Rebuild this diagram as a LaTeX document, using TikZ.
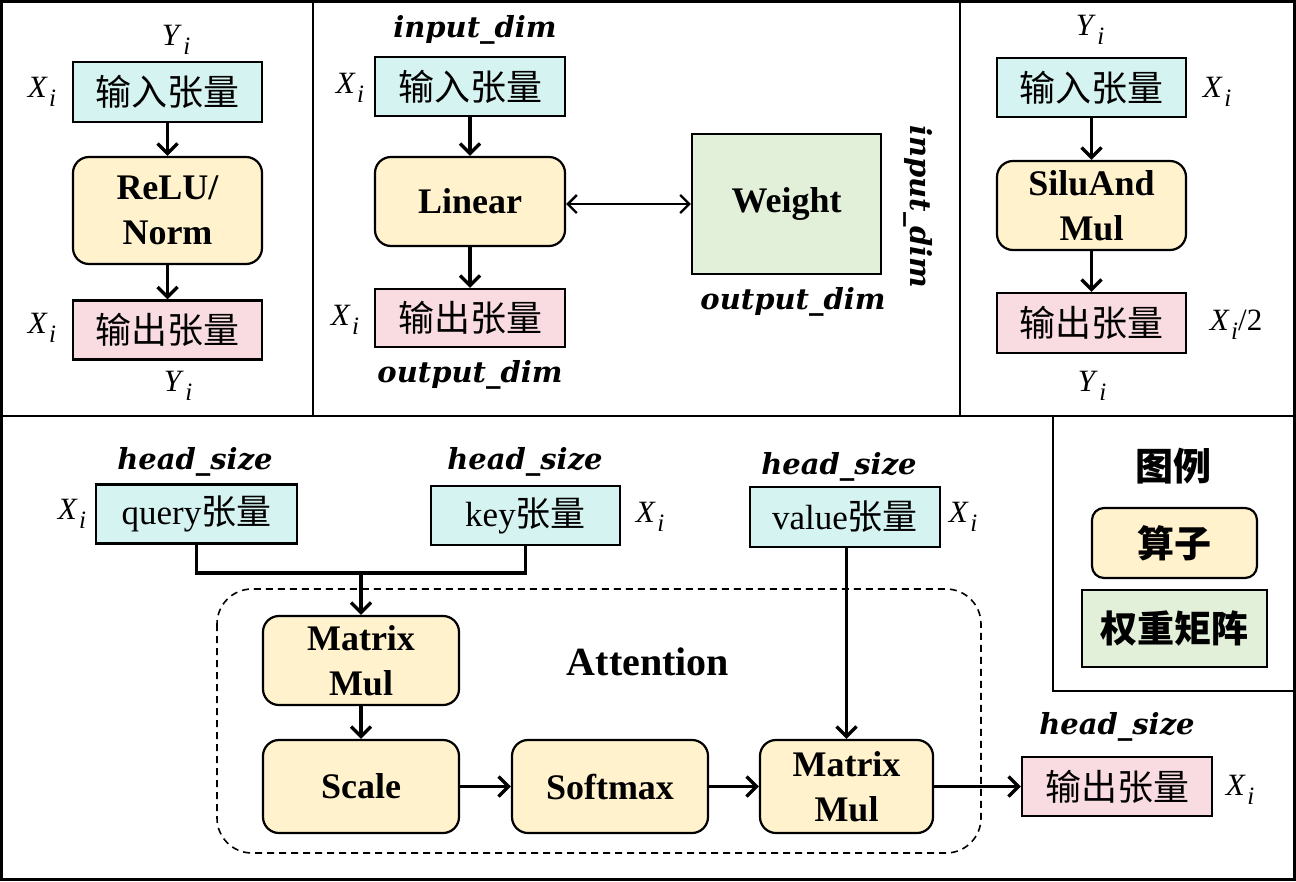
\documentclass[tikz,border=0pt]{standalone}
\usepackage{fontspec}
\setmainfont{Liberation Serif}
\newfontfamily\cjk{Noto Sans CJK SC}
\newfontfamily\dimf{DejaVu Serif}
\usetikzlibrary{arrows.meta}
\definecolor{cyanF}{HTML}{D5F3F0}
\definecolor{yelF}{HTML}{FFF2CC}
\definecolor{pinkF}{HTML}{F9DCE2}
\definecolor{grnF}{HTML}{E2EFD9}
\newcommand\symsub[2]{\textit{#1}\kern1.5pt\raisebox{-0.28em}{\fontsize{25}{25}\selectfont\textit{#2}}}
\tikzset{
  tensorin/.style={draw, line width=2.2pt, fill=cyanF, inner sep=0pt, font=\cjk\fontsize{36}{40}\selectfont},
  tensorout/.style={draw, line width=2.2pt, fill=pinkF, inner sep=0pt, font=\cjk\fontsize{36}{40}\selectfont},
  opbox/.style={draw, line width=2.2pt, fill=yelF, rounded corners=16pt, inner sep=0pt, align=center, font=\bfseries\fontsize{36}{45}\selectfont},
  wbox/.style={draw, line width=2.2pt, fill=grnF, inner sep=0pt, font=\bfseries\fontsize{36}{45}\selectfont},
  varlab/.style={inner sep=0pt, font=\fontsize{31}{33}\selectfont},
  dimlab/.style={inner sep=0pt, font=\dimf\bfseries\itshape\fontsize{29}{32}\selectfont},
  arr/.style={line width=3.4pt, -{Straight Barb[length=10pt,width=20pt]}},
  frame/.style={line width=2.6pt}
}
\begin{document}
\begin{tikzpicture}[x=1pt,y=-1pt]
\useasboundingbox (0,0) rectangle (1296,881);
% frames
\draw[frame] (1.3,1.3) rectangle (1294.7,879.7);
\draw[frame] (313,0) -- (313,416);
\draw[frame] (960,0) -- (960,416);
\draw[frame] (0,416) -- (1296,416);
\draw[frame] (1053,416) -- (1053,691) -- (1296,691);

% ---------- panel 1 ----------
\node[tensorin, minimum width=189pt, minimum height=60pt] (in1) at (167.5,92) {输入张量};
\node[opbox, minimum width=189pt, minimum height=107pt] (op1) at (167.5,210.5) {ReLU/\\Norm};
\node[tensorout, minimum width=189pt, minimum height=59pt] (out1) at (167.5,330) {输出张量};
\draw[arr] (in1) -- (op1);
\draw[arr] (op1) -- (out1);
\node[varlab] (y1a) at (176,40) {\symsub{Y}{i}};
\node[varlab] (x1a) at (42,92) {\symsub{X}{i}};
\node[varlab] (x1b) at (42,328) {\symsub{X}{i}};
\node[varlab] (y1b) at (178,386) {\symsub{Y}{i}};

% ---------- panel 2 ----------
\node[tensorin, minimum width=190pt, minimum height=59pt] (in2) at (470,86.5) {输入张量};
\node[opbox, minimum width=190pt, minimum height=89pt] (lin) at (470,201.5) {Linear};
\node[tensorout, minimum width=190pt, minimum height=58pt] (out2) at (470,318) {输出张量};
\node[wbox, minimum width=189pt, minimum height=140pt] (wt) at (786.5,204) {Weight};
\draw[arr] (in2) -- (lin);
\draw[arr] (lin) -- (out2);
\draw[line width=2.4pt, {Straight Barb[length=9pt,width=18pt]}-{Straight Barb[length=9pt,width=18pt]}] (lin.east |- wt.west) -- (wt.west);
\node[dimlab] (d2a) at (475,30) {input\_dim};
\node[varlab] (x2a) at (350,88) {\symsub{X}{i}};
\node[varlab] (x2b) at (345,320) {\symsub{X}{i}};
\node[dimlab] (d2b) at (470,375) {output\_dim};
\node[dimlab] (d2c) at (793,302) {output\_dim};
\node[dimlab, rotate=-90] (d2d) at (918,207) {input\_dim};

% ---------- panel 3 ----------
\node[tensorin, minimum width=189pt, minimum height=59pt] (in3) at (1091.5,87.5) {输入张量};
\node[opbox, minimum width=189pt, minimum height=89pt] (silu) at (1091.5,205.5) {SiluAnd\\Mul};
\node[tensorout, minimum width=189pt, minimum height=60pt] (out3) at (1091.5,323) {输出张量};
\draw[arr] (in3) -- (silu);
\draw[arr] (silu) -- (out3);
\node[varlab] (y3a) at (1090,30) {\symsub{Y}{i}};
\node[varlab] (x3a) at (1217,92) {\symsub{X}{i}};
\node[varlab] (x3b) at (1236,325) {\symsub{X}{i}/2};
\node[varlab] (y3b) at (1092,386) {\symsub{Y}{i}};

% ---------- attention panel ----------
\draw[line width=1.6pt, dashed, dash pattern=on 7pt off 5pt, rounded corners=35pt] (217,589) rectangle (981,853);
\node[inner sep=0pt, font=\bfseries\fontsize{40}{45}\selectfont] (att) at (648,662) {Attention};

\node[tensorin, minimum width=201pt, minimum height=59pt, font=\fontsize{35}{40}\selectfont] (q) at (196.5,514) {query{\cjk 张量}};
\node[tensorin, minimum width=189pt, minimum height=59pt, font=\fontsize{35}{40}\selectfont] (k) at (525.5,515.5) {key{\cjk 张量}};
\node[tensorin, minimum width=190pt, minimum height=60pt, font=\fontsize{35}{40}\selectfont] (v) at (845,517) {value{\cjk 张量}};
\node[opbox, minimum width=196pt, minimum height=89pt] (mm1) at (361,660.5) {Matrix\\Mul};
\node[opbox, minimum width=196pt, minimum height=93pt] (sc) at (361,786.5) {Scale};
\node[opbox, minimum width=196pt, minimum height=93pt] (sm) at (610,786.5) {Softmax};
\node[opbox, minimum width=173pt, minimum height=93pt] (mm2) at (846.5,786.5) {Matrix\\Mul};
\node[tensorout, minimum width=190pt, minimum height=59pt] (ob) at (1117,786.5) {输出张量};

\coordinate (j) at (361,573);
\draw[line width=3.4pt] (q.south) |- (j);
\draw[line width=3.4pt] (k.south) |- (j);
\draw[arr] (j) -- (mm1.north);
\draw[arr] (mm1) -- (sc);
\draw[arr] (sc) -- (sm);
\draw[arr] (sm) -- (mm2);
\draw[arr] (v.south -| mm2.north) -- (mm2.north);
\draw[arr] (mm2) -- (ob);

\node[dimlab] (h1) at (195,462) {head\_size};
\node[dimlab] (h2) at (525,462) {head\_size};
\node[dimlab] (h3) at (839,467) {head\_size};
\node[dimlab] (h4) at (1117,727) {head\_size};
\node[varlab] (xq) at (72,514) {\symsub{X}{i}};
\node[varlab] (xk) at (650,517) {\symsub{X}{i}};
\node[varlab] (xv) at (963,517) {\symsub{X}{i}};
\node[varlab] (xo) at (1240,790) {\symsub{X}{i}};

% ---------- legend ----------
\node[inner sep=0pt, font=\cjk\bfseries\fontsize{38}{40}\selectfont] (lg) at (1173,466) {图例};
\node[opbox, minimum width=165pt, minimum height=70pt, rounded corners=12pt, font=\cjk\bfseries\fontsize{37}{40}\selectfont] (lgop) at (1174.5,543) {算子};
\node[wbox, minimum width=185pt, minimum height=77pt, font=\cjk\bfseries\fontsize{37}{40}\selectfont] (lgw) at (1174.5,628.5) {权重矩阵};
\end{tikzpicture}
\end{document}
